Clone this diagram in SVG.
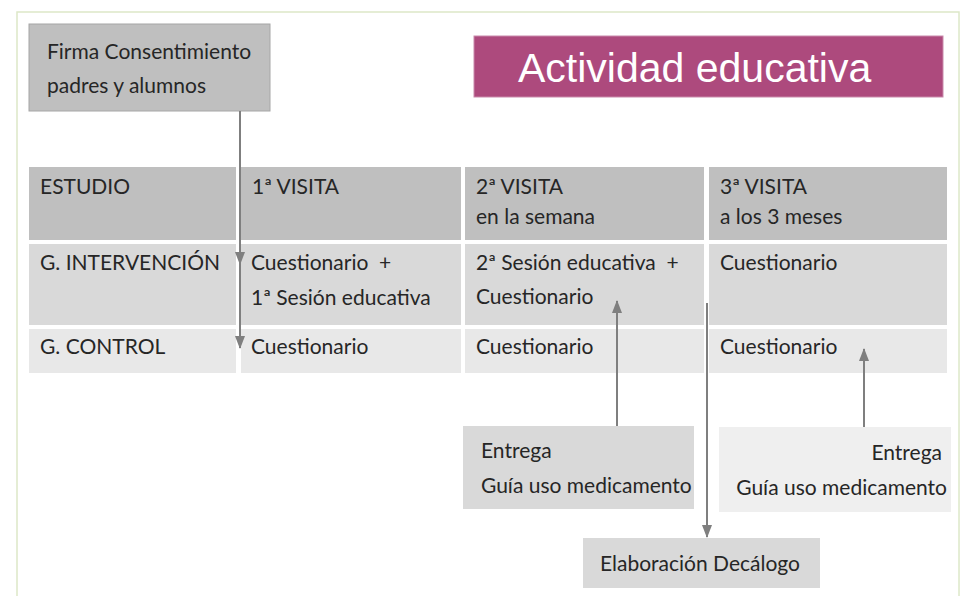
<svg xmlns="http://www.w3.org/2000/svg" width="965" height="596" viewBox="0 0 965 596">
<defs>
<marker id="arr" viewBox="0 0 13 10" refX="12" refY="5" markerWidth="13" markerHeight="10" markerUnits="userSpaceOnUse" orient="auto">
<path d="M0,0 L13,5 L0,10 z" fill="#7f7f7f"/>
</marker>
<style>
.t{font-family:Lato,"Open Sans","Liberation Sans",sans-serif;font-size:21px;fill:#262626}
.hd{fill:#bfbfbf}
.r2{fill:#d9d9d9}
.r3{fill:#e8e8e8}
.c{stroke:#7f7f7f;stroke-width:2;fill:none;marker-end:url(#arr)}
</style>
</defs>
<rect x="0" y="0" width="965" height="596" fill="#ffffff"/>
<rect x="17" y="12" width="942" height="600" fill="none" stroke="#dde8c8" stroke-width="1.5"/>

<g id="firma">
<rect x="29" y="24" width="241" height="87" fill="#bfbfbf" stroke="#a6a6a6" stroke-width="1"/>
<text class="t" x="47" y="59">Firma Consentimiento</text>
<text class="t" x="47" y="93">padres y alumnos</text>
</g>

<g id="titulo">
<rect x="474" y="36" width="469" height="61" fill="#ad4a7d" stroke="#c98aab" stroke-width="1"/>
<text x="518" y="82" font-family="'Liberation Sans',Arial,sans-serif" font-size="41" fill="#ffffff">Actividad educativa</text>
</g>

<g id="tabla">
<g id="h-estudio"><rect class="hd" x="29" y="167" width="207" height="73"/><text class="t" x="40" y="194">ESTUDIO</text></g>
<g id="h-visita1"><rect class="hd" x="241" y="167" width="220" height="73"/><text class="t" x="252" y="194">1ª VISITA</text></g>
<g id="h-visita2"><rect class="hd" x="465" y="167" width="239" height="73"/><text class="t" x="476" y="194">2ª VISITA</text><text class="t" x="476" y="224">en la semana</text></g>
<g id="h-visita3"><rect class="hd" x="709" y="167" width="238" height="73"/><text class="t" x="720" y="194">3ª VISITA</text><text class="t" x="720" y="224">a los 3 meses</text></g>

<g id="int-label"><rect class="r2" x="29" y="244" width="207" height="81"/><text class="t" x="40" y="270">G. INTERVENCIÓN</text></g>
<g id="int-v1"><rect class="r2" x="241" y="244" width="220" height="81"/><text class="t" x="251" y="270" xml:space="preserve">Cuestionario  +</text><text class="t" x="251" y="305">1ª Sesión educativa</text></g>
<g id="int-v2"><rect class="r2" x="465" y="244" width="239" height="81"/><text class="t" x="476" y="270" xml:space="preserve">2ª Sesión educativa  +</text><text class="t" x="476" y="304">Cuestionario</text></g>
<g id="int-v3"><rect class="r2" x="709" y="244" width="238" height="81"/><text class="t" x="720" y="270">Cuestionario</text></g>

<g id="ctl-label"><rect class="r3" x="29" y="329" width="207" height="44"/><text class="t" x="40" y="354">G. CONTROL</text></g>
<g id="ctl-v1"><rect class="r3" x="241" y="329" width="220" height="44"/><text class="t" x="251" y="354">Cuestionario</text></g>
<g id="ctl-v2"><rect class="r3" x="465" y="329" width="239" height="44"/><text class="t" x="476" y="354">Cuestionario</text></g>
<g id="ctl-v3"><rect class="r3" x="709" y="329" width="238" height="44"/><text class="t" x="720" y="354">Cuestionario</text></g>
</g>

<g id="entrega1">
<rect x="463" y="426" width="231" height="83" fill="#d9d9d9"/>
<text class="t" x="481" y="458">Entrega</text>
<text class="t" x="481" y="493">Guía uso medicamento</text>
</g>

<g id="entrega2">
<rect x="719" y="427" width="232" height="85" fill="#efefef"/>
<text class="t" x="942" y="460" text-anchor="end">Entrega</text>
<text class="t" x="947" y="495" text-anchor="end">Guía uso medicamento</text>
</g>

<g id="decalogo">
<rect x="583" y="538" width="237" height="50" fill="#d9d9d9"/>
<text class="t" x="600" y="571">Elaboración Decálogo</text>
</g>

<g id="conectores">
<path class="c" d="M240 111 V264"/>
<path class="c" d="M240 111 V348"/>
<path class="c" d="M617 426 V301"/>
<path class="c" d="M707 303 V537"/>
<path class="c" d="M864 427 V349"/>
</g>
</svg>
